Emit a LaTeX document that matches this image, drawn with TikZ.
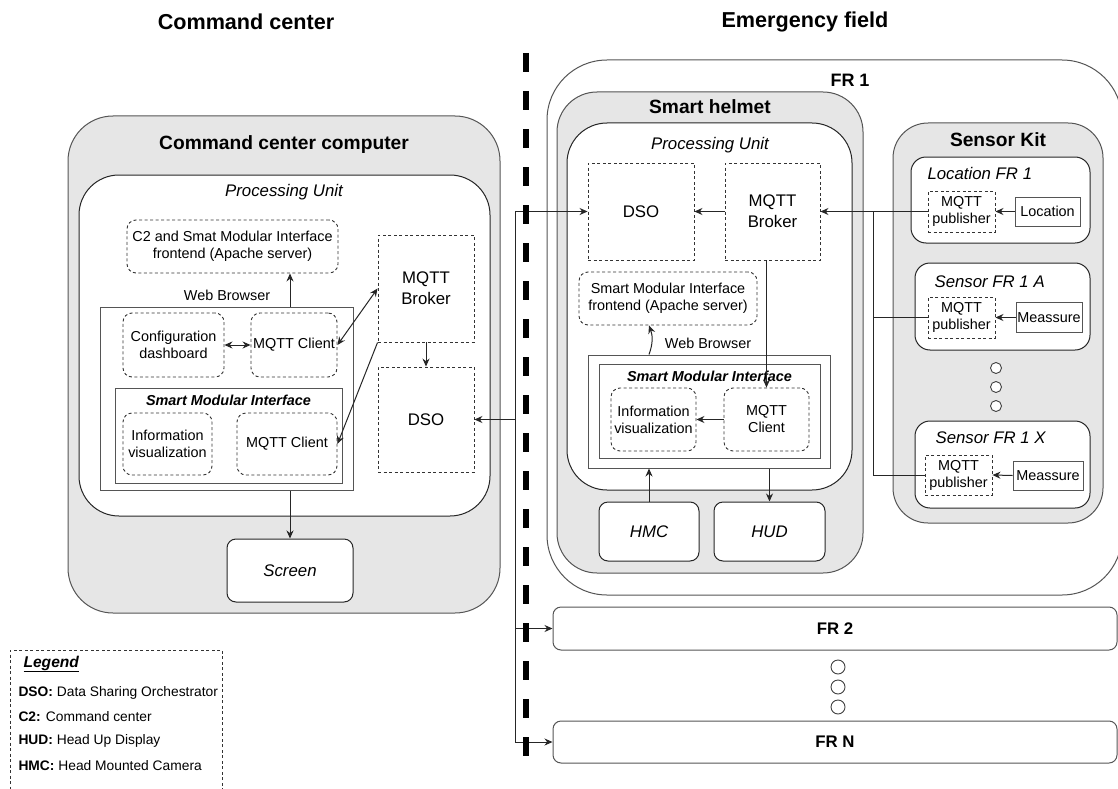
\documentclass[tikz,border=0pt]{standalone}
\usepackage{fontspec}
\setmainfont{Liberation Sans}
\usepackage{tikz}
\usetikzlibrary{arrows,arrows.meta,shapes,positioning}
\definecolor{cfgray}{HTML}{E6E6E6}
\definecolor{cfline}{HTML}{555555}
\definecolor{cfdash}{HTML}{333333}
\newcommand{\txtnorm}{\fontsize{14.4}{17}\selectfont}
\newcommand{\txtbig}{\fontsize{16.8}{21}\selectfont}
\newcommand{\txttitle}{\fontsize{19.2}{22}\selectfont\bfseries}
\newcommand{\txthead}{\fontsize{21.6}{25}\selectfont\bfseries}
\newcommand{\txtlegend}{\fontsize{13.8}{16}\selectfont}
\tikzstyle{arrow} = [line width=1pt,->,>={Stealth[length=8pt,width=7pt]},color=black!85]
\tikzstyle{biarrow} = [line width=1pt,<->,>={Stealth[length=8pt,width=7pt]},color=black!85]
\tikzstyle{link} = [line width=1pt,color=black!85]
\tikzstyle{container} = [rectangle, rounded corners=40pt, draw=cfline, fill=cfgray, line width=1pt]
\tikzstyle{unit} = [rectangle, rounded corners=40pt, draw=black!85, fill=white, line width=1pt]
\tikzstyle{swbox} = [rectangle, draw=cfdash, line width=0.9pt, dash pattern=on 3pt off 2.5pt, fill=white, align=center, inner sep=1pt, font=\txtbig]
\tikzstyle{swround} = [swbox, rounded corners=9pt, font=\txtnorm]
\tikzstyle{plainbox} = [rectangle, draw=cfline, fill=white, line width=1pt, align=center, inner sep=1pt, font=\txtnorm]
\tikzstyle{devbox} = [rectangle, rounded corners=9pt, draw=black!85, fill=white, line width=1pt, font=\txtbig\itshape]
\tikzstyle{sensorbox} = [rectangle, rounded corners=15pt, draw=black!85, fill=white, line width=1pt]
\tikzstyle{frbox} = [rectangle, rounded corners=8pt, draw=cfline, fill=white, line width=1pt, font=\txtbig\bfseries]
\tikzstyle{dotmark} = [circle, draw=black!75, fill=white, line width=0.9pt, inner sep=0pt]
\tikzstyle{sepline} = [line width=6pt, dash pattern=on 19pt off 19pt]
\begin{document}
\begin{tikzpicture}[x=1pt, y=-1pt]
\useasboundingbox (0,0) rectangle (1118,789);

% Headers
\node[font=\txthead] (ccHead) at (246,22) {Command center};
\node[font=\txthead] (efHead) at (805,22) {Emergency field};

% Command center computer
\node[container, rounded corners=45pt, minimum width=432pt, minimum height=497pt] (ccc) at (284,364.5) {};
\node[font=\txttitle] (cccTitle) at (284,145) {Command center computer};
\node[unit, minimum width=411pt, minimum height=341pt] (ccPU) at (284.5,345.5) {};
\node[font=\txtbig\itshape] (ccPUTitle) at (284,192) {Processing Unit};

\node[swround, minimum width=211pt, minimum height=53pt] (c2fe) at (232.5,246.5) {C2 and Smat Modular Interface\\frontend (Apache server)};
\node[swbox, minimum width=96pt, minimum height=107pt] (ccBroker) at (426,288.5) {MQTT\\Broker};
\node[swbox, minimum width=96pt, minimum height=105pt] (ccDso) at (426,419.5) {DSO};

\node[plainbox, minimum width=253pt, minimum height=183pt] (ccWeb) at (226.5,398.5) {};
\node[font=\txtnorm] (ccWebLabel) at (227,295) {Web Browser};
\node[swround, minimum width=101pt, minimum height=64pt] (ccConf) at (173.5,345) {Configuration\\dashboard};
\node[swround, minimum width=86pt, minimum height=64pt] (ccClientA) at (294,345) {MQTT Client};

\node[plainbox, minimum width=227pt, minimum height=95pt] (ccSmi) at (228.5,435.5) {};
\node[font=\txtnorm\bfseries\itshape] (ccSmiTitle) at (228.5,400) {Smart Modular Interface};
\node[swround, minimum width=89pt, minimum height=62pt] (ccInfo) at (167.5,444) {Information\\visualization};
\node[swround, minimum width=100pt, minimum height=62pt] (ccClientB) at (287,444) {MQTT Client};

\node[devbox, minimum width=126pt, minimum height=63pt] (screen) at (290,570.5) {Screen};

% Command center connections
\draw[arrow] (ccWeb.north -| screen) -- (c2fe.south -| screen);
\draw[biarrow] (ccConf.east) -- (ccClientA.east -| ccClientA.west);
\draw[biarrow] (ccClientA.east) -- (ccBroker.west);
\draw[arrow] (ccBroker.south west) -- (ccClientB.east);
\draw[arrow] (ccBroker.south) -- (ccDso.north);
\draw[arrow] (ccWeb.south -| screen) -- (screen.north);

% FR 1
\node[rectangle, rounded corners=60pt, draw=cfline, fill=white, line width=1pt, minimum width=575pt, minimum height=535pt] (fr1) at (834.5,327.5) {};
\node[font=\fontsize{18}{21}\selectfont\bfseries] (fr1Title) at (850,80) {FR 1};

% Smart helmet
\node[container, minimum width=306pt, minimum height=481pt] (helmet) at (710,332.5) {};
\node[font=\txttitle] (helmetTitle) at (710,107) {Smart helmet};
\node[unit, minimum width=285pt, minimum height=367pt] (hPU) at (709.5,306.5) {};
\node[font=\txtbig\itshape] (hPUTitle) at (710,145) {Processing Unit};

\node[swbox, minimum width=106pt, minimum height=97pt] (hDso) at (641,211.5) {DSO};
\node[swbox, minimum width=95pt, minimum height=97pt] (hBroker) at (772.5,211.5) {MQTT\\Broker};
\node[swround, minimum width=178pt, minimum height=53pt] (hFe) at (668,298.5) {Smart Modular Interface\\frontend (Apache server)};

\node[plainbox, minimum width=242pt, minimum height=113pt] (hWeb) at (709,411.5) {};
\node[font=\txtnorm] (hWebLabel) at (708,343) {Web Browser};
\node[plainbox, minimum width=221pt, minimum height=94pt] (hSmi) at (709.5,411) {};
\node[font=\txtnorm\bfseries\itshape] (hSmiTitle) at (709.5,376) {Smart Modular Interface};
\node[swround, minimum width=85pt, minimum height=63pt] (hInfo) at (653.5,419.5) {Information\\visualization};
\node[swround, minimum width=85pt, minimum height=63pt] (hClient) at (766.5,419.5) {MQTT\\Client};

\node[devbox, minimum width=100pt, minimum height=59pt] (hmc) at (649,531.5) {HMC};
\node[devbox, minimum width=111pt, minimum height=59pt] (hud) at (769.5,531.5) {HUD};

% Smart helmet connections
\draw[arrow] (hBroker.west) -- (hDso.east);
\draw[arrow] (hBroker.south -| hClient) -- (hClient.north);
\draw[arrow] (hWeb.north -| hmc) to[bend right=20] (hFe.south -| hmc);
\draw[arrow] (hClient.west) -- (hInfo.east);
\draw[arrow] (hmc.north) -- (hWeb.south -| hmc);
\draw[arrow] (hWeb.south -| hud) -- (hud.north);

% Sensor kit
\node[container, rounded corners=35pt, minimum width=210pt, minimum height=400pt] (kit) at (998,323) {};
\node[font=\txttitle] (kitTitle) at (998,140) {Sensor Kit};

\node[sensorbox, minimum width=179pt, minimum height=86pt] (locBox) at (1000.5,200) {};
\node[font=\txtbig\itshape, anchor=west] (locLabel) at (924,173) {Location FR 1};
\node[swround, rounded corners=0pt, minimum width=67pt, minimum height=41pt] (pubLoc) at (961.5,211.5) {MQTT\\publisher};
\node[plainbox, minimum width=65pt, minimum height=29pt] (loc) at (1047.5,211.5) {Location};

\node[sensorbox, minimum width=175pt, minimum height=87pt] (senA) at (1002.5,306.5) {};
\node[font=\txtbig\itshape, anchor=west] (senALabel) at (931,282) {Sensor FR 1 A};
\node[swround, rounded corners=0pt, minimum width=67pt, minimum height=41pt] (pubA) at (961.5,317.5) {MQTT\\publisher};
\node[plainbox, minimum width=66pt, minimum height=30pt] (measA) at (1049,317.5) {Meassure};

\foreach \dy [count=\i] in {368,387,406}
  \node[dotmark, minimum size=11pt] (kitDot\i) at (996,\dy) {};

\node[sensorbox, minimum width=175pt, minimum height=87pt] (senX) at (1002.5,464.5) {};
\node[font=\txtbig\itshape, anchor=west] (senXLabel) at (932,438) {Sensor FR 1 X};
\node[swround, rounded corners=0pt, minimum width=67pt, minimum height=40pt] (pubX) at (958.5,475) {MQTT\\publisher};
\node[plainbox, minimum width=70pt, minimum height=29pt] (measX) at (1048,475.5) {Meassure};

% Sensor connections
\draw[arrow] (loc.west) -- (pubLoc.east);
\draw[arrow] (measA.west) -- (pubA.east);
\draw[arrow] (measX.west) -- (pubX.east);
\coordinate (sbTop) at (873,211.5);
\draw[arrow] (pubLoc.west) -- (hBroker.east);
\draw[link] (sbTop) -- (pubX.west -| sbTop) -- (pubX.west);
\draw[link] (pubA.west -| sbTop) -- (pubA.west);

% Other first responders
\node[frbox, minimum width=564pt, minimum height=43pt] (fr2) at (835,628.5) {FR 2};
\foreach \dy [count=\i] in {667,687,707}
  \node[dotmark, minimum size=14pt] (frDot\i) at (838,\dy) {};
\node[frbox, minimum width=564pt, minimum height=42pt] (frN) at (835,742) {FR N};

% DSO bus
\coordinate (busTop) at (515,211.5);
\draw[link] (busTop) -- (frN.west -| busTop);
\draw[arrow] (busTop) -- (hDso.west);
\draw[arrow] (ccDso.east -| busTop) -- (ccDso.east);
\draw[arrow] (fr2.west -| busTop) -- (fr2.west);
\draw[arrow] (frN.west -| busTop) -- (frN.west);

% Separator
\coordinate (sepTop) at (526,53);
\coordinate (sepBot) at (526,756);
\draw[sepline] (sepTop) -- (sepBot);

% Legend
\node[rectangle, draw=cfdash, line width=0.9pt, dash pattern=on 3pt off 2.5pt, minimum width=212pt, minimum height=160pt] (legend) at (116,730) {};
\node[font=\fontsize{15.6}{18}\selectfont\bfseries\itshape, anchor=west] (legendTitle) at (20,664) {\underline{Legend}};
\node[font=\txtlegend, anchor=west] (legDso) at (15,693) {\textbf{DSO:} Data Sharing Orchestrator};
\node[font=\txtlegend, anchor=west] (legC2) at (15,717) {\textbf{C2:} Command center};
\node[font=\txtlegend, anchor=west] (legHud) at (15,741) {\textbf{HUD:} Head Up Display};
\node[font=\txtlegend, anchor=west] (legHmc) at (15,766) {\textbf{HMC:} Head Mounted Camera};
\end{tikzpicture}
\end{document}
